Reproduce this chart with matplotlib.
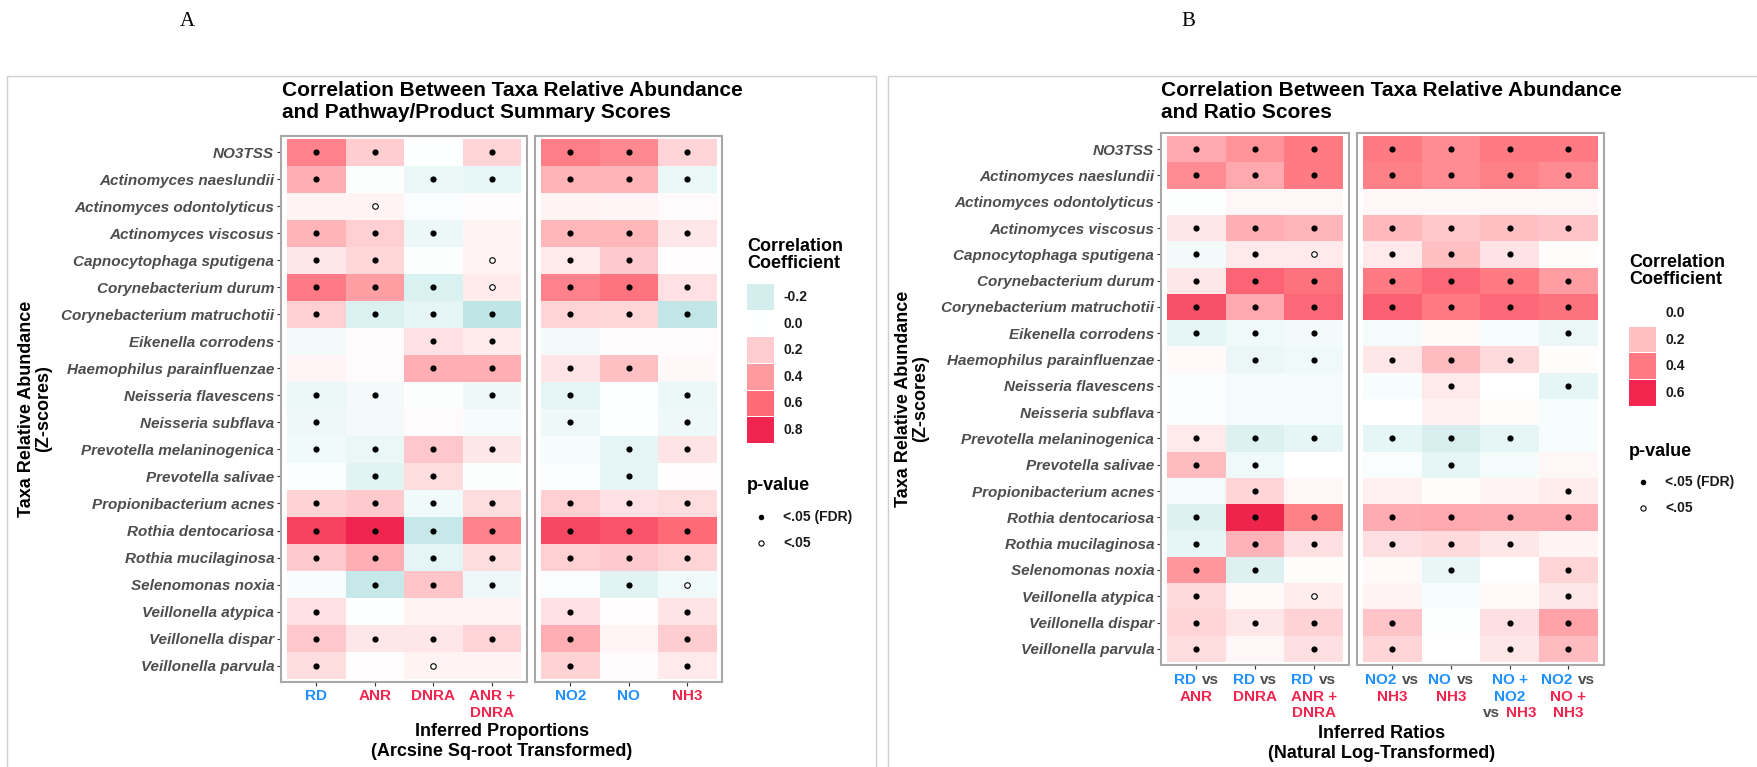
import numpy as np
import matplotlib
matplotlib.use("Agg")
import matplotlib.pyplot as plt
from matplotlib.colors import LinearSegmentedColormap, Normalize
from matplotlib.patches import Rectangle
from matplotlib.offsetbox import TextArea, HPacker, AnnotationBbox

plt.rcParams["font.family"] = ["Liberation Sans", "DejaVu Sans"]

W, H = 1757, 767

taxa = ["NO3TSS", "Actinomyces naeslundii", "Actinomyces odontolyticus",
        "Actinomyces viscosus", "Capnocytophaga sputigena", "Corynebacterium durum",
        "Corynebacterium matruchotii", "Eikenella corrodens", "Haemophilus parainfluenzae",
        "Neisseria flavescens", "Neisseria subflava", "Prevotella melaninogenica",
        "Prevotella salivae", "Propionibacterium acnes", "Rothia dentocariosa",
        "Rothia mucilaginosa", "Selenomonas noxia", "Veillonella atypica",
        "Veillonella dispar", "Veillonella parvula"]

# panel A: RD, ANR, DNRA, ANR + DNRA | NO2, NO, NH3
a_groups = [4, 3]
a_r = [
    [0.50, 0.20, 0.00, 0.17, 0.52, 0.47, 0.17],
    [0.32, -0.01, -0.10, -0.11, 0.30, 0.30, -0.10],
    [0.05, 0.05, -0.02, 0.02, 0.05, 0.04, 0.02],
    [0.30, 0.19, -0.09, 0.05, 0.29, 0.29, 0.10],
    [0.10, 0.16, -0.01, 0.05, 0.09, 0.21, 0.01],
    [0.53, 0.38, -0.17, 0.08, 0.50, 0.56, 0.12],
    [0.19, -0.17, -0.12, -0.28, 0.17, 0.16, -0.27],
    [-0.05, 0.02, 0.12, 0.08, -0.05, 0.02, 0.02],
    [0.04, 0.02, 0.32, 0.32, 0.11, 0.25, 0.03],
    [-0.10, -0.05, -0.01, -0.08, -0.12, 0.00, -0.09],
    [-0.08, -0.05, 0.02, -0.04, -0.08, 0.00, -0.08],
    [-0.06, -0.10, 0.22, 0.10, -0.04, -0.12, 0.11],
    [-0.02, -0.14, 0.14, -0.01, -0.02, -0.12, 0.01],
    [0.18, 0.21, -0.06, 0.14, 0.19, 0.12, 0.14],
    [0.72, 0.80, -0.25, 0.50, 0.70, 0.67, 0.60],
    [0.21, 0.32, -0.12, 0.14, 0.19, 0.21, 0.17],
    [-0.03, -0.25, 0.23, -0.08, -0.02, -0.14, -0.06],
    [0.12, 0.00, 0.05, 0.05, 0.12, 0.01, 0.11],
    [0.22, 0.10, 0.10, 0.17, 0.32, 0.04, 0.20],
    [0.14, 0.01, 0.05, 0.05, 0.18, 0.02, 0.09],
]
# 2 = p<.05 (FDR), 1 = p<.05, 0 = ns
a_sig = [
    [2, 2, 0, 2, 2, 2, 2],
    [2, 0, 2, 2, 2, 2, 2],
    [0, 1, 0, 0, 0, 0, 0],
    [2, 2, 2, 0, 2, 2, 2],
    [2, 2, 0, 1, 2, 2, 0],
    [2, 2, 2, 1, 2, 2, 2],
    [2, 2, 2, 2, 2, 2, 2],
    [0, 0, 2, 2, 0, 0, 0],
    [0, 0, 2, 2, 2, 2, 0],
    [2, 2, 0, 2, 2, 0, 2],
    [2, 0, 0, 0, 2, 0, 2],
    [2, 2, 2, 2, 0, 2, 2],
    [0, 2, 2, 0, 0, 2, 0],
    [2, 2, 2, 2, 2, 2, 2],
    [2, 2, 2, 2, 2, 2, 2],
    [2, 2, 2, 2, 2, 2, 2],
    [0, 2, 2, 2, 0, 2, 1],
    [2, 0, 0, 0, 2, 0, 2],
    [2, 2, 2, 2, 2, 0, 2],
    [2, 0, 1, 0, 2, 0, 2],
]
a_xlabels = [
    [[("RD", "b")]], [[("ANR", "r")]], [[("DNRA", "r")]],
    [[("ANR +", "r")], [("DNRA", "r")]],
    [[("NO2", "b")]], [[("NO", "b")]], [[("NH3", "r")]],
]

# panel B: ratios
b_groups = [3, 4]
b_r = [
    [0.27, 0.33, 0.40, 0.40, 0.35, 0.40, 0.40],
    [0.35, 0.27, 0.40, 0.38, 0.35, 0.38, 0.35],
    [-0.01, 0.03, 0.03, 0.03, 0.03, 0.03, 0.03],
    [0.08, 0.25, 0.23, 0.22, 0.18, 0.20, 0.19],
    [-0.05, 0.07, 0.07, 0.07, 0.20, 0.09, 0.01],
    [0.08, 0.45, 0.42, 0.40, 0.44, 0.40, 0.30],
    [0.50, 0.27, 0.44, 0.46, 0.40, 0.44, 0.42],
    [-0.10, -0.06, -0.05, -0.04, 0.02, -0.03, -0.08],
    [0.02, -0.08, -0.06, 0.08, 0.21, 0.12, 0.01],
    [-0.02, -0.04, -0.04, -0.03, 0.07, 0.00, -0.10],
    [-0.02, -0.04, -0.04, 0.00, 0.05, 0.01, -0.03],
    [0.07, -0.13, -0.10, -0.10, -0.15, -0.10, -0.03],
    [0.21, -0.06, 0.00, -0.02, -0.10, -0.04, 0.03],
    [-0.04, 0.13, 0.03, 0.05, 0.01, 0.04, 0.06],
    [-0.13, 0.62, 0.38, 0.26, 0.27, 0.26, 0.26],
    [-0.10, 0.24, 0.10, 0.10, 0.12, 0.08, 0.04],
    [0.32, -0.13, 0.01, 0.02, -0.09, 0.00, 0.13],
    [0.12, 0.02, 0.06, 0.04, -0.03, 0.02, 0.08],
    [0.13, 0.08, 0.14, 0.19, -0.01, 0.10, 0.28],
    [0.11, 0.03, 0.10, 0.13, 0.00, 0.08, 0.21],
]
b_sig = [
    [2, 2, 2, 2, 2, 2, 2],
    [2, 2, 2, 2, 2, 2, 2],
    [0, 0, 0, 0, 0, 0, 0],
    [2, 2, 2, 2, 2, 2, 2],
    [2, 2, 1, 2, 2, 2, 0],
    [2, 2, 2, 2, 2, 2, 2],
    [2, 2, 2, 2, 2, 2, 2],
    [2, 2, 2, 0, 0, 0, 2],
    [0, 2, 2, 2, 2, 2, 0],
    [0, 0, 0, 0, 2, 0, 2],
    [0, 0, 0, 0, 0, 0, 0],
    [2, 2, 2, 2, 2, 2, 0],
    [2, 2, 0, 0, 2, 0, 0],
    [0, 2, 0, 0, 0, 0, 2],
    [2, 2, 2, 2, 2, 2, 2],
    [2, 2, 2, 2, 2, 2, 0],
    [2, 2, 0, 0, 2, 0, 2],
    [2, 0, 1, 0, 0, 0, 2],
    [2, 2, 2, 2, 0, 2, 2],
    [2, 0, 2, 2, 0, 2, 2],
]
b_xlabels = [
    [[("RD", "b"), ("vs", "g")], [("ANR", "r")]],
    [[("RD", "b"), ("vs", "g")], [("DNRA", "r")]],
    [[("RD", "b"), ("vs", "g")], [("ANR +", "r")], [("DNRA", "r")]],
    [[("NO2", "b"), ("vs", "g")], [("NH3", "r")]],
    [[("NO", "b"), ("vs", "g")], [("NH3", "r")]],
    [[("NO +", "b")], [("NO2", "b")], [("vs", "g"), ("NH3", "r")]],
    [[("NO2", "b"), ("vs", "g")], [("NO +", "r")], [("NH3", "r")]],
]

a_legend_vals = [-0.2, 0.0, 0.2, 0.4, 0.6, 0.8]
b_legend_vals = [0.0, 0.2, 0.4, 0.6]

seg_colors = {"b": "#1E90FF", "r": "#F0264F", "g": "#4D4D4D"}


def make_cmap(anchors, vmin, vmax):
    pos = [(v - vmin) / (vmax - vmin) for v, _ in anchors]
    cmap = LinearSegmentedColormap.from_list("c", list(zip(pos, [c for _, c in anchors])))
    return cmap, Normalize(vmin, vmax)


cmap_a, norm_a = make_cmap([(-0.4, "#A2D8D8"), (-0.2, "#D4EEEE"), (0.0, "#FFFFFF"),
                            (0.2, "#FFCDD0"), (0.4, "#FF9A9F"), (0.6, "#FF6A77"),
                            (0.8, "#F0264F"), (0.9, "#D81440")], -0.4, 0.9)
cmap_b, norm_b = make_cmap([(-0.4, "#98D4D4"), (-0.2, "#CDEAEA"), (0.0, "#FFFFFF"),
                            (0.2, "#FFC0C4"), (0.4, "#FF7A82"), (0.6, "#F3264F"),
                            (0.8, "#C8103A")], -0.4, 0.8)


def px_axes(x0, y0, x1, y1):
    return fig.add_axes([x0 / W, 1 - y1 / H, (x1 - x0) / W, (y1 - y0) / H])


def draw_group(x0, y0, colw, rowh, vals, sig, xlabels, cmap, norm, show_y, line0, linestep):
    vals = np.array(vals)
    sig = np.array(sig)
    nr, nc = vals.shape
    pad_x, pad_y = 0.1 * colw, 0.1 * rowh
    ax = px_axes(x0 - pad_x, y0 - pad_y, x0 + nc * colw + pad_x, y0 + nr * rowh + pad_y)
    xs = np.arange(1, nc + 1)
    ys = np.arange(1, nr + 1)
    ax.pcolormesh(np.arange(nc + 1) + 0.5, np.arange(nr + 1) + 0.5, vals,
                  cmap=cmap, norm=norm, shading="flat", edgecolors="none")
    X, Y = np.meshgrid(xs, ys)
    m = sig == 2
    ax.scatter(X[m], Y[m], s=20, c="black", linewidths=0, zorder=3)
    m = sig == 1
    ax.scatter(X[m], Y[m], s=16, facecolors="white", edgecolors="black", linewidths=0.8, zorder=3)
    ax.set_xlim(0.4, nc + 0.6)
    ax.set_ylim(nr + 0.6, 0.4)
    ax.set_xticks(xs)
    ax.set_xticklabels([])
    ax.tick_params(axis="x", length=3, width=0.8, color="#333333")
    if show_y:
        ax.set_yticks(ys)
        ax.set_yticklabels(taxa, fontsize=11, fontweight="bold", fontstyle="italic", color="#4D4D4D")
        ax.tick_params(axis="y", length=3, width=0.8, color="#333333", pad=2)
    else:
        ax.set_yticks([])
    for sp in ax.spines.values():
        sp.set_color("#A8A8A8")
        sp.set_linewidth(1.5)
    for x, lines in zip(xs, xlabels):
        for i, segs in enumerate(lines):
            areas = [TextArea(t, textprops=dict(color=seg_colors[c], fontsize=11, fontweight="bold"))
                     for t, c in segs]
            box = HPacker(children=areas, align="baseline", pad=0, sep=4)
            ab = AnnotationBbox(box, (x, 0), xycoords=("data", "axes fraction"),
                                xybox=(0, -(line0 + i * linestep) * 0.72), boxcoords="offset points",
                                box_alignment=(0.5, 0.5), frameon=False, pad=0)
            ax.add_artist(ab)
    return ax


fig = plt.figure(figsize=(W / 100, H / 100), dpi=100)
bg = fig.add_axes([0, 0, 1, 1])
bg.set_xlim(0, W)
bg.set_ylim(H, 0)
bg.axis("off")

# outer frames
bg.add_patch(Rectangle((7, 76), 869, 695, fill=False, ec="#D0D0D0", lw=1))
bg.add_patch(Rectangle((888, 76), 880, 695, fill=False, ec="#D0D0D0", lw=1))
bg.text(187, 22, "A", fontsize=15, family="Liberation Serif", ha="center", va="center")
bg.text(1188, 22, "B", fontsize=15, family="Liberation Serif", ha="center", va="center")

a_r_arr = np.array(a_r)
a_sig_arr = np.array(a_sig)
b_r_arr = np.array(b_r)
b_sig_arr = np.array(b_sig)

# panel A
k = a_groups[0]
draw_group(287, 139, 58.5, 27.0, a_r_arr[:, :k], a_sig_arr[:, :k], a_xlabels[:k],
           cmap_a, norm_a, True, 14, 17)
draw_group(541, 139, 58.5, 27.0, a_r_arr[:, k:], a_sig_arr[:, k:], a_xlabels[k:],
           cmap_a, norm_a, False, 14, 17)

# panel B
k = b_groups[0]
draw_group(1167, 136, 58.7, 26.3, b_r_arr[:, :k], b_sig_arr[:, :k], b_xlabels[:k],
           cmap_b, norm_b, True, 15.5, 16.5)
draw_group(1363, 136, 58.7, 26.3, b_r_arr[:, k:], b_sig_arr[:, k:], b_xlabels[k:],
           cmap_b, norm_b, False, 15.5, 16.5)

# titles
for x, l2 in [(282, "and Pathway/Product Summary Scores"), (1161, "and Ratio Scores")]:
    bg.text(x, 91, "Correlation Between Taxa Relative Abundance", fontsize=15,
            fontweight="bold", ha="left", va="center")
    bg.text(x, 113, l2, fontsize=15, fontweight="bold", ha="left", va="center")

# axis titles
bg.text(502, 732, "Inferred Proportions", fontsize=13, fontweight="bold", ha="center", va="center")
bg.text(502, 752, "(Arcsine Sq-root Transformed)", fontsize=13, fontweight="bold", ha="center", va="center")
bg.text(1382, 733, "Inferred Ratios", fontsize=13, fontweight="bold", ha="center", va="center")
bg.text(1382, 753, "(Natural Log-Transformed)", fontsize=13, fontweight="bold", ha="center", va="center")
for x, y in [(35, 409), (912, 399)]:
    bg.text(x, y, "Taxa Relative Abundance\n(Z-scores)", fontsize=13, fontweight="bold",
            rotation=90, ha="center", va="center", multialignment="center", linespacing=1.0)


def draw_legend(x, ytitle, vals, ykey0, cmap, norm, yp):
    bg.text(x, ytitle, "Correlation\nCoefficient", fontsize=13, fontweight="bold",
            ha="left", va="center", linespacing=1.05)
    step = 26.6
    for i, v in enumerate(vals):
        yc = ykey0 + i * step
        bg.add_patch(Rectangle((x, yc - step / 2 + 0.5), 27, step - 1, fc=cmap(norm(v)), ec="none"))
        bg.text(x + 36, yc, f"{v:.1f}", fontsize=10, fontweight="bold", ha="left", va="center",
                color="#1A1A1A")
    bg.text(x, yp, "p-value", fontsize=13, fontweight="bold", ha="left", va="center")
    bg.scatter([x + 14], [yp + 31], s=16, c="black", linewidths=0)
    bg.scatter([x + 14], [yp + 57], s=14, facecolors="white", edgecolors="black", linewidths=0.8)
    bg.text(x + 36, yp + 31, "<.05 (FDR)", fontsize=10, fontweight="bold", ha="left", va="center",
            color="#1A1A1A")
    bg.text(x + 36, yp + 57, "<.05", fontsize=10, fontweight="bold", ha="left", va="center",
            color="#1A1A1A")


draw_legend(747, 255, a_legend_vals, 297, cmap_a, norm_a, 486)
draw_legend(1629, 271, b_legend_vals, 313, cmap_b, norm_b, 451)

fig.savefig("out.png", dpi=100)
